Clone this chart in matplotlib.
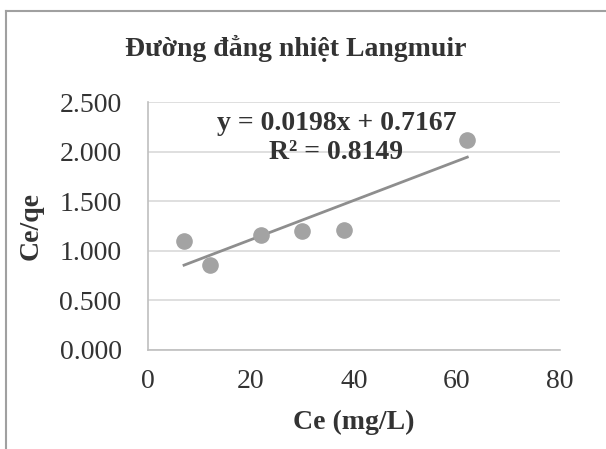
import numpy as np
import matplotlib
matplotlib.use('Agg')
import matplotlib.pyplot as plt
from matplotlib.lines import Line2D

# data
ce = [7, 12, 22, 30, 38, 62]
ce_qe = [1.10, 0.86, 1.16, 1.20, 1.21, 2.12]
slope, intercept = 0.0198, 0.7167
r2 = 0.8149
x_ticks = [0, 20, 40, 60, 80]
y_ticks = [0.0, 0.5, 1.0, 1.5, 2.0, 2.5]

plt.rcParams['font.family'] = ['Liberation Serif', 'DejaVu Serif']
txt = '#333333'

fig = plt.figure(figsize=(6.06, 4.49), dpi=100)
ax = fig.add_axes([0.2442, 0.2205, 0.6799, 0.5523])

ax.scatter(ce, ce_qe, s=120, color='#a3a3a3', zorder=3)
xf = np.array([min(ce), max(ce)])
ax.plot(xf, slope * xf + intercept, color='#8e8e8e', lw=2, zorder=2)

ax.set_xlim(0, 80)
ax.set_ylim(0, 2.5)
ax.set_xticks(x_ticks)
ax.set_yticks(y_ticks)
ax.set_yticklabels([f'{v:.3f}' for v in y_ticks])
ax.tick_params(length=0, labelsize=20, colors=txt)
ax.tick_params(axis='y', pad=19)
ax.tick_params(axis='x', pad=14)
ax.grid(axis='y', color='#d9d9d9', lw=1.2)
ax.set_axisbelow(True)
for s in ['top', 'right']:
    ax.spines[s].set_visible(False)
for s in ['left', 'bottom']:
    ax.spines[s].set_color('#bfbfbf')
    ax.spines[s].set_linewidth(1.2)

ax.set_xlabel('Ce (mg/L)', fontsize=20, fontweight='bold', color=txt, labelpad=11)
ax.set_ylabel('Ce/qe', fontsize=20, fontweight='bold', color=txt, labelpad=11)
fig.text(0.488, 0.891, 'Đường đẳng nhiệt Langmuir', ha='center', va='center',
         fontsize=20, fontweight='bold', color=txt)

ax.text(36.6, 2.137, f'y = {slope}x + {intercept}\nR² = {r2}', ha='center', va='center',
        fontsize=20, fontweight='bold', color=txt, linespacing=1.25)

# outer chart frame
fig.add_artist(Line2D([0.01, 1.0], [0.975, 0.975], color='#a0a0a0', lw=1.5))
fig.add_artist(Line2D([0.01, 0.01], [0.0, 0.975], color='#a0a0a0', lw=1.5))

fig.savefig('out.png', dpi=100)
